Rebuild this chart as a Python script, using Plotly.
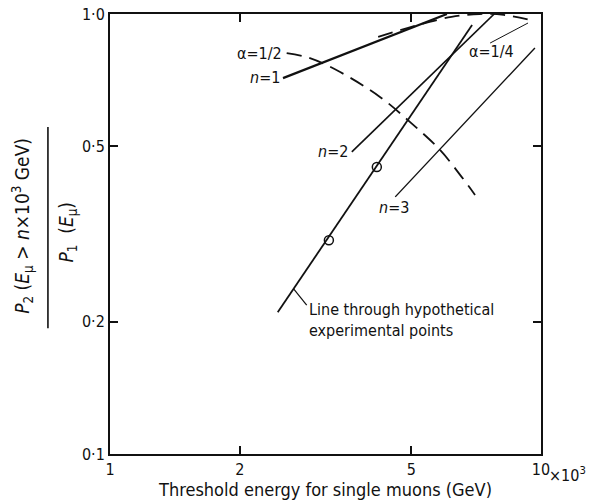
import math
import plotly.graph_objects as go

# ---- data (x in units of 10^3 GeV, y = P2/P1) ----
n1_x = [2.52, 6.05]
n1_y = [0.715, 1.0]

n2_x = [3.64, 7.95]
n2_y = [0.486, 1.02]

n3_x = [4.59, 9.68]
n3_y = [0.384, 0.837]

hyp_x = [2.45, 6.92]
hyp_y = [0.210, 0.944]

pts_x = [3.22, 4.16]
pts_y = [0.306, 0.449]

a12_x = [2.57, 2.91, 3.42, 4.23, 4.97, 5.83, 6.49, 7.03]
a12_y = [0.815, 0.794, 0.738, 0.648, 0.568, 0.491, 0.431, 0.388]

a14_x = [4.19, 5.2, 6.2, 7.2, 8.2, 9.6]
a14_y = [0.887, 0.945, 0.985, 1.0, 0.995, 0.965]

lead14_x = [7.62, 9.33]
lead14_y = [0.859, 0.954]

leadhyp_x = [2.67, 2.86]
leadhyp_y = [0.237, 0.218]

x_tickvals = [1, 2, 5, 10]
x_ticktext = ["1", "2", "5", "10"]
y_tickvals = [0.1, 0.2, 0.5, 1.0]
y_ticktext = ["0·1", "0·2", "0·5", "1·0"]

FONT = "DejaVu Sans Condensed, Liberation Sans Narrow, DejaVu Sans"
BLACK = "#111111"

fig = go.Figure()

def line(x, y, w=1.6, dash="solid"):
    fig.add_trace(go.Scatter(x=x, y=y, mode="lines",
                             line=dict(color=BLACK, width=w, dash=dash, shape="spline"),
                             showlegend=False, hoverinfo="skip"))

line(n1_x, n1_y, 2.2)
line(n2_x, n2_y, 1.6)
line(n3_x, n3_y, 1.4)
line(hyp_x, hyp_y, 1.8)
line(a12_x, a12_y, 1.8, "15px,8px")
line(a14_x, a14_y, 1.8, "15px,8px")
line(lead14_x, lead14_y, 1.0)
line(leadhyp_x, leadhyp_y, 1.2)

fig.add_trace(go.Scatter(x=pts_x, y=pts_y, mode="markers",
                         marker=dict(symbol="circle-open", size=9, color=BLACK,
                                     line=dict(width=1.5, color=BLACK)),
                         showlegend=False, hoverinfo="skip"))

def text(x, y, s, xanchor="left", yanchor="middle", xref="x", yref="y", angle=0, size=16, align="left"):
    if xref == "x":
        x = math.log10(x)
    if yref == "y":
        y = math.log10(y)
    fig.add_annotation(x=x, y=y, xref=xref, yref=yref, text=s, showarrow=False,
                       xanchor=xanchor, yanchor=yanchor, textangle=angle, align=align,
                       font=dict(family=FONT, size=size, color=BLACK))

# labels (positions in data coords)
text(2.53, 0.812, "α=1/2", xanchor="right")
text(2.50, 0.716, "<i>n</i>=1", xanchor="right")
text(3.60, 0.486, "<i>n</i>=2", xanchor="right")
text(4.55, 0.363, "<i>n</i>=3", xanchor="center")
text(6.72, 0.822, "α=1/4", xanchor="left")
text(2.86, 0.226, "Line through hypothetical<br>experimental points", xanchor="left", yanchor="top")

# y-axis title as fraction
text(-0.205, 0.518, "<i>P</i><sub>2</sub> (<i>E</i><sub>μ</sub> > <i>n</i>×10<sup>3</sup> GeV)",
     xanchor="center", yanchor="middle", xref="paper", yref="paper", angle=-90, size=19)
text(-0.098, 0.505, "<i>P</i><sub>1</sub>  (<i>E</i><sub>μ</sub>)",
     xanchor="center", yanchor="middle", xref="paper", yref="paper", angle=-90, size=19)
fig.add_shape(type="line", xref="paper", yref="paper", x0=-0.144, x1=-0.144,
              y0=0.286, y1=0.743, line=dict(color=BLACK, width=1.6))

# x10^3 suffix on last tick
text(1.014, -0.018, "×10<sup>3</sup>", xanchor="left", yanchor="top", xref="paper", yref="paper")

fig.update_xaxes(type="log", range=[0, 1], tickvals=x_tickvals, ticktext=x_ticktext,
                 ticks="inside", ticklen=8, tickwidth=1.5, tickcolor=BLACK,
                 showline=True, linecolor=BLACK, linewidth=2, mirror="ticks",
                 showgrid=False, zeroline=False, automargin=False,
                 tickfont=dict(family=FONT, size=16, color=BLACK),
                 title=dict(text="Threshold energy for single muons (GeV)",
                            font=dict(family=FONT, size=18, color=BLACK), standoff=4))
fig.update_yaxes(type="log", range=[-1, 0], tickvals=y_tickvals, ticktext=y_ticktext,
                 ticks="inside", ticklen=8, tickwidth=1.5, tickcolor=BLACK,
                 showline=True, linecolor=BLACK, linewidth=2, mirror="ticks",
                 showgrid=False, zeroline=False, automargin=False,
                 tickfont=dict(family=FONT, size=16, color=BLACK))

fig.update_layout(width=589, height=502, margin=dict(l=110, r=48, t=14, b=48, autoexpand=False),
                  plot_bgcolor="white", paper_bgcolor="white", showlegend=False)

fig.write_html("out.html")
